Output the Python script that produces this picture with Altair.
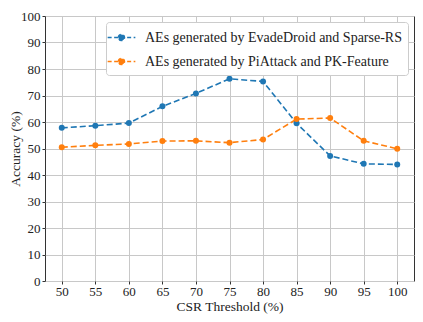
import altair as alt
import pandas as pd

thresholds = [50, 55, 60, 65, 70, 75, 80, 85, 90, 95, 100]
blue_vals = [57.8, 58.6, 59.6, 65.9, 70.8, 76.3, 75.3, 59.5, 47.2, 44.2, 44.0]
orange_vals = [50.5, 51.2, 51.7, 52.8, 52.9, 52.2, 53.4, 61.1, 61.5, 52.9, 49.9]
series_names = ["AEs generated by EvadeDroid and Sparse-RS",
                "AEs generated by PiAttack and PK-Feature"]
colors = ["#1f77b4", "#ff7f0e"]

rows = []
for t, v in zip(thresholds, blue_vals):
    rows.append({"x": t, "y": v, "s": series_names[0]})
for t, v in zip(thresholds, orange_vals):
    rows.append({"x": t, "y": v, "s": series_names[1]})
df = pd.DataFrame(rows)

FONT = "Liberation Serif"

xenc = alt.X("x:Q", title="CSR Threshold (%)",
             scale=alt.Scale(domain=[47.5, 102.5], nice=False, zero=False),
             axis=alt.Axis(values=thresholds, titleY=25, titleBaseline="middle"))
yenc = alt.Y("y:Q", title="Accuracy (%)",
             scale=alt.Scale(domain=[0, 100], nice=False),
             axis=alt.Axis(values=list(range(0, 101, 10)), titleX=-30,
                           titleBaseline="middle"))
cenc = alt.Color("s:N", scale=alt.Scale(domain=series_names, range=colors),
                 legend=alt.Legend(title=None, orient="top-right",
                                   symbolType="M-1.6,0 L1.6,0 M-0.35,0 A0.35,0.35 0 1,1 0.35,0 A0.35,0.35 0 1,1 -0.35,0",
                                   symbolSize=300, symbolStrokeWidth=1.5,
                                   symbolDash=[4, 2.5],
                                   labelFont=FONT, labelFontSize=14,
                                   labelColor="#222", labelLimit=400,
                                   strokeColor="#cccccc", fillColor="white",
                                   padding=6, rowPadding=7,
                                   cornerRadius=3, offset=6, labelOffset=14))

base = alt.Chart(df)
lines = base.mark_line(strokeDash=[6, 3], strokeWidth=1.6).encode(
    x=xenc, y=yenc, color=cenc)
points = base.mark_point(filled=True, size=36, opacity=1).encode(
    x=xenc, y=yenc, color=cenc)

chart = alt.layer(lines, points).properties(
    width=369, height=265,
    autosize=alt.AutoSizeParams(type="none"),
    padding={"left": 37, "top": 8, "right": 1, "bottom": 33},
).configure_view(stroke="#333", strokeWidth=1).configure_axis(
    grid=True, gridColor="#c8c8c8", gridWidth=1,
    domain=False, tickColor="#333", tickSize=3,
    labelFont=FONT, labelFontSize=13, labelColor="#222",
    titleFont=FONT, titleFontSize=13.5, titleFontWeight="normal", titleColor="#222",
).configure_axisY(labelPadding=2).configure_axisX(labelPadding=1)

chart.save("out.html", embed_options={"renderer": "svg", "actions": False})
